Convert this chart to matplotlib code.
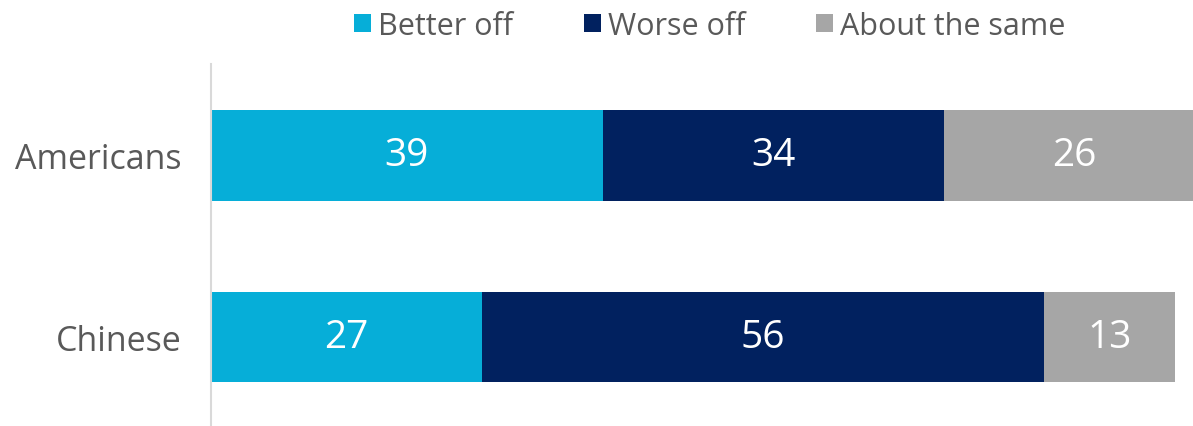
import matplotlib.pyplot as plt
import numpy as np

groups = ['Chinese', 'Americans']
series = ['Better off', 'Worse off', 'About the same']
better_off = [27, 39]
worse_off = [56, 34]
about_same = [13, 26]
colors = ['#06AED8', '#01215F', '#A6A6A6']

plt.rcParams['font.family'] = ['Open Sans', 'DejaVu Sans']
text_color = '#595959'

fig = plt.figure(figsize=(11.93, 4.27), dpi=100)
ax = fig.add_axes([211 / 1193, 0, 1 - 211 / 1193, (427 - 65) / 427])

y = np.arange(len(groups))
left = np.zeros(len(groups))
for name, vals, c in zip(series, [better_off, worse_off, about_same], colors):
    bars = ax.barh(y, vals, left=left, height=0.5, color=c, label=name)
    for b, v in zip(bars, vals):
        ax.text(b.get_x() + b.get_width() / 2, b.get_y() + b.get_height() / 2,
                str(v), ha='center', va='center', color='white', fontsize=28)
    left += vals

ax.set_xlim(0, 97.8)
ax.set_ylim(-0.49, 1.504)
ax.set_yticks(y)
ax.set_yticklabels(groups, fontsize=24.5, color=text_color)
ax.set_xticks([])
ax.tick_params(axis='y', length=0, pad=21)
for s in ['top', 'right', 'bottom']:
    ax.spines[s].set_visible(False)
ax.spines['left'].set_color('#D9D9D9')
ax.spines['left'].set_linewidth(1.5)

fig.legend(loc='upper center', bbox_to_anchor=(0.595, 1.037), ncol=3, frameon=False,
           fontsize=22, labelcolor=text_color, handlelength=0.55, handleheight=0.55,
           handletextpad=0.25, columnspacing=2.3)

fig.savefig('out.png', dpi=100)
